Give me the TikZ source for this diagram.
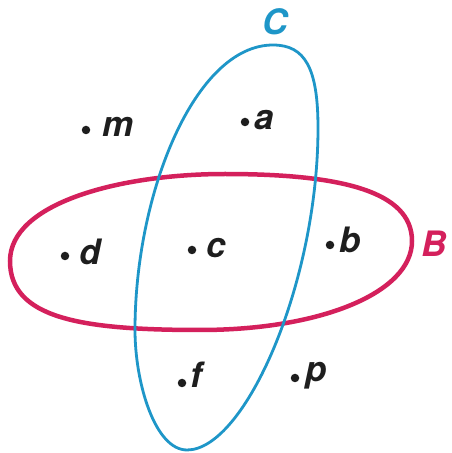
\documentclass[tikz,border=0pt]{standalone}
\usepackage{fontspec}
\setmainfont{TeX Gyre Heros}
\definecolor{setC}{RGB}{30,150,200}
\definecolor{setB}{RGB}{212,32,92}
\definecolor{ink}{RGB}{30,30,30}
\begin{document}
\begin{tikzpicture}[x=1pt,y=1pt,
  pt/.style={circle,fill=ink,inner sep=0pt,minimum size=8.5pt},
  lbl/.style={anchor=base west,inner sep=0pt,text=ink,font=\fontsize{35}{37}\selectfont\bfseries\itshape},
  setlbl/.style={anchor=base west,inner sep=0pt,font=\fontsize{35}{37}\selectfont\bfseries\itshape}]
\useasboundingbox (0,0) rectangle (451,453);
\fill[white] (0,0) rectangle (451,453);
% set B
\draw[setB,line width=4.5pt] (10,192)
  .. controls (10,250) and (120,279) .. (225,279)
  .. controls (340,279) and (412,262) .. (412,212)
  .. controls (412,160) and (320,123) .. (200,123)
  .. controls (80,123) and (10,135) .. (10,192) -- cycle;
% set C
\draw[setC,line width=2.8pt] (273,408)
  .. controls (305,408) and (318,385) .. (318,325)
  .. controls (318,170) and (245,3) .. (187,3)
  .. controls (155,3) and (135,70) .. (135,123)
  .. controls (135,260) and (195,408) .. (273,408) -- cycle;
% set labels
\node[setlbl,text=setC] (Cl) at (262,418) {C};
\node[setlbl,text=setB] (Bl) at (421,196) {B};
% elements
\node[pt] (m) at (86,323) {};
\node[lbl] (ml) at (102,316) {m};
\node[pt] (a) at (245,331) {};
\node[lbl] (al) at (254,323) {a};
\node[pt] (d) at (65,197) {};
\node[lbl] (dl) at (79,188) {d};
\node[pt] (c) at (192,203) {};
\node[lbl] (cl) at (206,195) {c};
\node[pt] (b) at (330,208) {};
\node[lbl] (bl) at (339,200) {b};
\node[pt] (f) at (182,70) {};
\node[lbl] (fl) at (190,65) {f};
\node[pt] (p) at (295,75) {};
\node[lbl] (pl) at (305,71) {p};
\end{tikzpicture}
\end{document}
